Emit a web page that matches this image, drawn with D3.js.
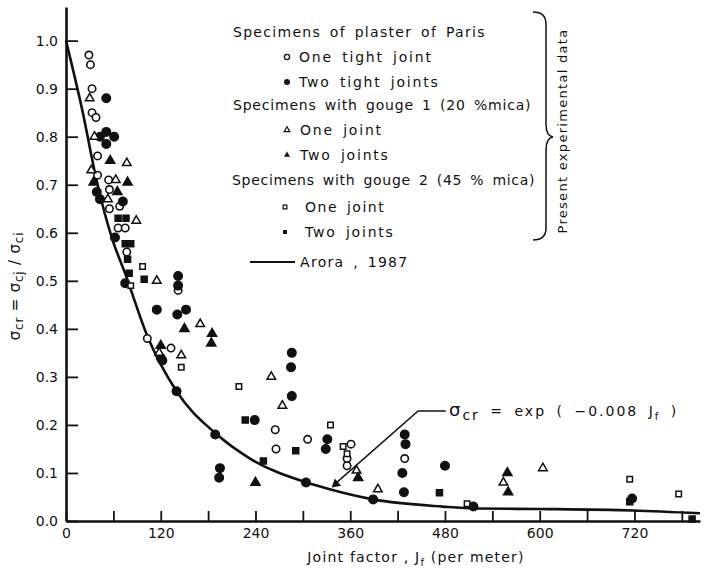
<!DOCTYPE html>
<html>
<head>
<meta charset="utf-8">
<script src="https://cdn.jsdelivr.net/npm/d3@7"></script>
<style>
  body { margin: 0; background: #fff; }
  text { font-family: "DejaVu Sans", sans-serif; fill: #111; }
</style>
</head>
<body>
<svg id="chart" width="704" height="569"></svg>
<script>
// --- data: [joint factor Jf, sigma_cr] ---
var plasterOne = [[29,0.97],[31,0.95],[33,0.90],[33,0.85],[38,0.84],[40,0.76],[40,0.72],[54,0.71],[55,0.69],
  [55,0.65],[68,0.655],[66,0.61],[75,0.61],[77,0.56],[142,0.48],[103,0.38],[133,0.36],[265,0.19],[266,0.15],
  [306,0.17],[361,0.16],[356,0.13],[356,0.115],[429,0.13]];
var plasterTwo = [[51,0.88],[43,0.80],[51,0.81],[61,0.80],[51,0.785],[39,0.685],[43,0.67],[72,0.665],[62,0.59],
  [75,0.495],[142,0.51],[142,0.49],[115,0.44],[141,0.43],[152,0.44],[120,0.34],[122,0.334],[140,0.27],[189,0.18],
  [195,0.11],[194,0.09],[239,0.21],[286,0.35],[285,0.32],[286,0.26],[331,0.17],[329,0.15],[304,0.08],[389,0.045],
  [429,0.18],[430,0.16],[426,0.10],[428,0.06],[480,0.115],[516,0.03],[717,0.047]];
var gouge1One = [[32,0.73],[30,0.88],[36,0.80],[77,0.745],[63,0.71],[53,0.67],[89,0.625],[115,0.50],[170,0.41],
  [118,0.35],[146,0.345],[260,0.30],[274,0.24],[368,0.105],[395,0.066],[554,0.08],[604,0.11]];
var gouge1Two = [[56,0.75],[35,0.705],[78,0.705],[65,0.685],[150,0.40],[185,0.39],[184,0.37],[120,0.365],
  [240,0.08],[370,0.09],[559,0.10],[560,0.06]];
var gouge2One = [[97,0.53],[82,0.49],[146,0.32],[219,0.28],[335,0.20],[351,0.155],[356,0.14],[508,0.036],
  [714,0.087],[776,0.056]];
var gouge2Two = [[66,0.63],[76,0.63],[75,0.577],[82,0.577],[78,0.545],[80,0.516],[99,0.503],[227,0.21],
  [250,0.125],[291,0.146],[473,0.059],[714,0.04],[793,0.004]];
// Arora (1987) curve
var aroraCurve = [[0,1.0],[20,0.86],[40,0.70],[58,0.59],[75,0.515],[103,0.385],[140,0.27],[189,0.183],
  [233,0.13],[305,0.08],[334,0.066],[389,0.045],[477,0.03],[518,0.026],[597,0.025],[718,0.022],[803,0.016]];
// leader line from the curve to the equation label
var leader = [[338,0.073],[446,0.229],[481,0.229]];

var xTicks = d3.range(0, 781, 60);
var yTicks = [0,0.1,0.2,0.3,0.4,0.5,0.6,0.7,0.8,0.9,1.0];

var svg = d3.select("#chart");
var x = d3.scaleLinear().domain([0, 803]).range([66, 700]);
var y = d3.scaleLinear().domain([0, 1.07]).range([521, 7]);

// axes
var xAxis = d3.axisBottom(x).tickValues(xTicks).tickSizeInner(-10).tickSizeOuter(0).tickPadding(7)
  .tickFormat(d => d % 120 === 0 ? d : "");
var yAxis = d3.axisLeft(y).tickValues(yTicks).tickSizeInner(-12).tickSizeOuter(0).tickPadding(8)
  .tickFormat(d3.format(".1f"));

var gx = svg.append("g").attr("transform", "translate(0,521)").call(xAxis);
var gy = svg.append("g").attr("transform", "translate(66,0)").call(yAxis);
[gx, gy].forEach(g => {
  g.select(".domain").attr("stroke", "#111").attr("stroke-width", 2.6);
  g.selectAll(".tick line").attr("stroke", "#111").attr("stroke-width", 1.8);
  g.selectAll(".tick text").style("font-family", "DejaVu Sans").style("font-size", "14px").attr("fill", "#111");
});

// curve
var line = d3.line().x(d => x(d[0])).y(d => y(d[1])).curve(d3.curveMonotoneX);
svg.append("path").datum(aroraCurve).attr("d", line)
  .attr("fill", "none").attr("stroke", "#111").attr("stroke-width", 2.6);

// leader line + arrow head at the curve
svg.append("path").datum(leader).attr("d", d3.line().x(d => x(d[0])).y(d => y(d[1])))
  .attr("fill", "none").attr("stroke", "#111").attr("stroke-width", 1.5);
var ax = x(leader[0][0]), ay = y(leader[0][1]);
svg.append("path").attr("d", d3.symbol(d3.symbolTriangle, 40)())
  .attr("transform", `translate(${ax + 3},${ay - 2}) rotate(-131)`).attr("fill", "#111");

// markers
function circles(data, filled, r) {
  svg.append("g").selectAll("circle").data(data).enter().append("circle")
    .attr("cx", d => x(d[0])).attr("cy", d => y(d[1])).attr("r", r)
    .attr("fill", filled ? "#111" : "#fff").attr("stroke", "#111").attr("stroke-width", 1.6);
}
function symbols(data, type, size, filled) {
  svg.append("g").selectAll("path").data(data).enter().append("path")
    .attr("d", d3.symbol(type, size)())
    .attr("transform", d => `translate(${x(d[0])},${y(d[1])})`)
    .attr("fill", filled ? "#111" : "#fff").attr("stroke", "#111").attr("stroke-width", 1.5);
}
circles(plasterOne, false, 3.7);
circles(plasterTwo, true, 4.2);
symbols(gouge1One, d3.symbolTriangle, 32, false);
symbols(gouge1Two, d3.symbolTriangle, 36, true);
symbols(gouge2One, d3.symbolSquare, 30, false);
symbols(gouge2Two, d3.symbolSquare, 36, true);

// legend
function label(tx, ty, str, ls) {
  return svg.append("text").attr("x", tx).attr("y", ty).attr("dy", "0.35em")
    .style("font-size", "14px").style("letter-spacing", (ls || 1.3) + "px").style("word-spacing", "3px").text(str);
}
label(233, 32, "Specimens of plaster of Paris");
label(299, 57, "One tight joint", 1.8);
label(299, 82, "Two tight joints", 1.8);
label(233, 105, "Specimens with gouge 1 (20 %mica)", 0.8);
label(300, 130, "One joint", 1.8);
label(300, 155, "Two joints", 1.8);
label(232, 180, "Specimens with gouge 2 (45 % mica)", 0.7);
label(305, 207, "One joint", 1.5);
label(305, 232, "Two joints", 1.8);
label(300, 262, "Arora , 1987");
svg.append("circle").attr("cx", 287).attr("cy", 57).attr("r", 2.6).attr("fill", "#fff").attr("stroke", "#111").attr("stroke-width", 1.3);
svg.append("circle").attr("cx", 287).attr("cy", 82).attr("r", 3).attr("fill", "#111");
svg.append("path").attr("d", d3.symbol(d3.symbolTriangle, 14)()).attr("transform", "translate(287,130)")
  .attr("fill", "#fff").attr("stroke", "#111").attr("stroke-width", 1.2);
svg.append("path").attr("d", d3.symbol(d3.symbolTriangle, 16)()).attr("transform", "translate(287,155)").attr("fill", "#111");
svg.append("path").attr("d", d3.symbol(d3.symbolSquare, 14)()).attr("transform", "translate(285,207)")
  .attr("fill", "#fff").attr("stroke", "#111").attr("stroke-width", 1.2);
svg.append("path").attr("d", d3.symbol(d3.symbolSquare, 16)()).attr("transform", "translate(285,232)").attr("fill", "#111");
svg.append("line").attr("x1", 250).attr("x2", 295).attr("y1", 262).attr("y2", 262).attr("stroke", "#111").attr("stroke-width", 2);

// brace
svg.append("path")
  .attr("d", "M533,12 Q546,12 546,24 L546,124 Q546,136 553,137 Q546,138 546,150 L546,228 Q546,240 533,240")
  .attr("fill", "none").attr("stroke", "#111").attr("stroke-width", 1.5);
svg.append("text").attr("transform", "translate(562,131) rotate(-90)").attr("text-anchor", "middle")
  .attr("dy", "0.35em").style("font-size", "13px").style("letter-spacing", "1.3px").text("Present experimental data");

// equation
var eq = svg.append("text").attr("x", 449).attr("y", 411).attr("dy", "0.35em")
  .style("font-size", "14px").style("letter-spacing", "2px").style("word-spacing", "4px");
eq.append("tspan").style("font-size", "18px").text("σ");
eq.append("tspan").attr("dy", 4).text("cr");
eq.append("tspan").attr("dy", -4).text("  =  exp ( −0.008 J");
eq.append("tspan").attr("dy", 4).style("font-size", "10px").text("f");
eq.append("tspan").attr("dy", -4).text(" )");

// axis titles
var xl = svg.append("text").attr("x", 416).attr("y", 557).attr("dy", "0.35em").attr("text-anchor", "middle")
  .style("font-size", "14px").style("letter-spacing", "1.2px");
xl.append("tspan").text("Joint factor , J");
xl.append("tspan").attr("dy", 4).style("font-size", "10px").text("f");
xl.append("tspan").attr("dy", -4).text(" (per meter)");

var yl = svg.append("text").attr("transform", "translate(15,286) rotate(-90)").attr("text-anchor", "middle")
  .attr("dy", "0.35em").style("font-size", "15px").style("letter-spacing", "0.8px");
yl.append("tspan").text("σ");
yl.append("tspan").attr("dy", 3).style("font-size", "12px").text("cr");
yl.append("tspan").attr("dy", -3).text(" = σ");
yl.append("tspan").attr("dy", 3).style("font-size", "12px").text("cj");
yl.append("tspan").attr("dy", -3).text(" / σ");
yl.append("tspan").attr("dy", 3).style("font-size", "12px").text("ci");
</script>
</body>
</html>
